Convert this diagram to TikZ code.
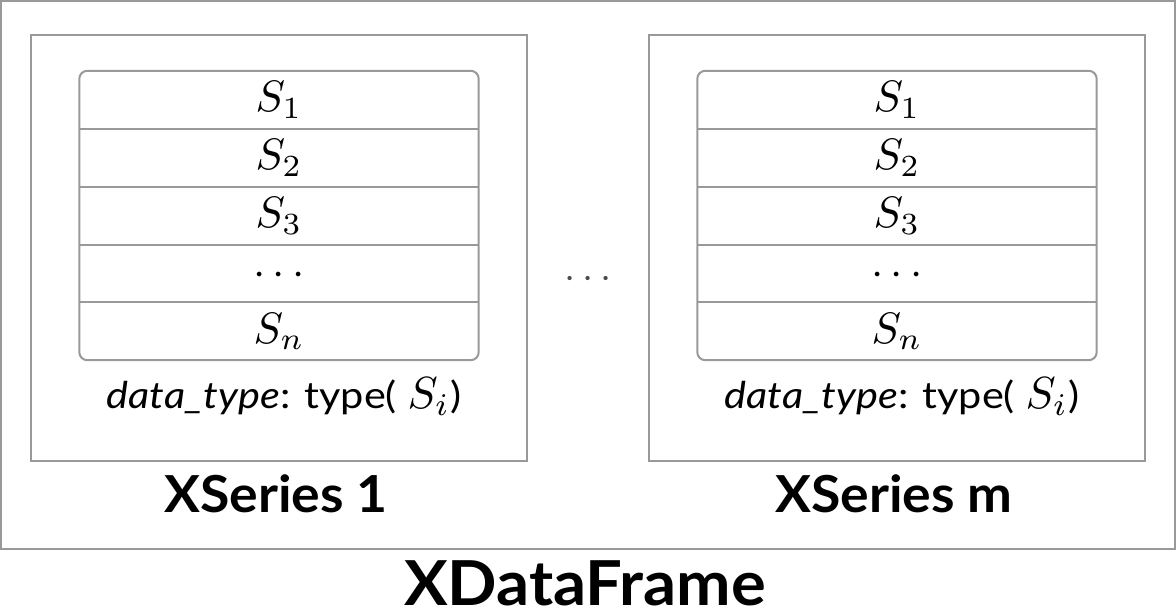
\documentclass[tikz,border=0pt]{standalone}
\usepackage{graphicx}
\usepackage[no-math]{fontspec}
\setmainfont{Lato}[FakeStretch=1.12]
\newfontfamily\titlefont{Lato}[FakeStretch=1.05]
\definecolor{linegray}{HTML}{999999}
\newcommand\bigmath[2]{{\fontsize{10}{12}\selectfont\scalebox{#1}{$#2$}}}
\newcommand\xseriesblock[3]{%
  \node[frame, minimum width=496pt, minimum height=426pt] (#1box) at (#2,248) {};
  \foreach \i/\t in {1/{S_1},2/{S_2},3/{S_3},4/{\cdots},5/{S_n}}{%
    \node[cell] (#1c\i) at ({#2},{99.9+(\i-1)*57.8}) {};
    \node[stext] (#1t\i) at ({#2},{112+(\i-1)*57.8}) {\bigmath{4.4}{\t}};
  }
  \draw[boxline, rounded corners=8pt] (#1c1.north west) rectangle (#1c5.south east);
  \foreach \i in {1,2,3,4}{%
    \draw[boxline] (#1c\i.south west) -- (#1c\i.south east);
  }
  \node[typetext] (#1type) at ({#2+5},409) {\textit{data\_type}: type( \bigmath{4.5}{S_i})};
  \node[title] (#1label) at ({#2-3},512) {#3};
}
\begin{document}
\begin{tikzpicture}[x=1pt,y=-1pt,
  boxline/.style={draw=linegray, line width=2pt},
  frame/.style={boxline, rectangle, inner sep=0pt},
  cell/.style={rectangle, inner sep=0pt, minimum width=399pt, minimum height=57.8pt},
  stext/.style={anchor=base, inner sep=0pt},
  typetext/.style={font=\fontsize{37}{44}\selectfont, anchor=base, inner sep=0pt},
  title/.style={font=\titlefont\fontsize{51}{60}\selectfont\bfseries, anchor=base, inner sep=0pt}]
\useasboundingbox (0,0) rectangle (1176,612);
\node[frame, minimum width=1174pt, minimum height=548pt] (df) at (588,275) {};
\xseriesblock{a}{279}{XSeries 1}
\xseriesblock{b}{897}{XSeries m}
\node[stext, text=black!70] (gap) at (588,289) {\bigmath{4.0}{\cdots}};
\node[title, font=\titlefont\fontsize{62}{70}\selectfont\bfseries] (dftitle) at (585,605) {XDataFrame};
\end{tikzpicture}
\end{document}
